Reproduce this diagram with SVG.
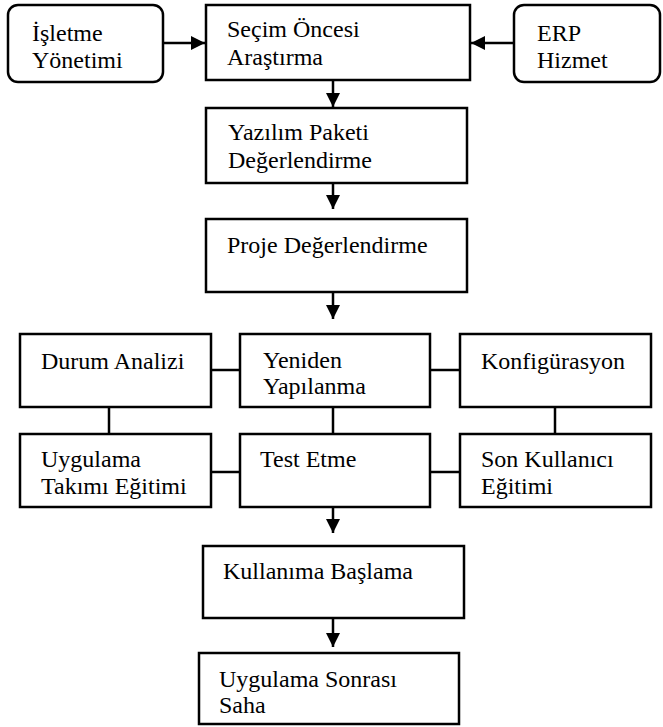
<svg xmlns="http://www.w3.org/2000/svg" width="663" height="727" viewBox="0 0 663 727">
  <style>
    .box { fill: #ffffff; stroke: #000000; stroke-width: 2.5; }
    .lbl { font-family: 'Liberation Serif', 'DejaVu Serif', serif; font-size: 24px; fill: #000000; }
    .wire { stroke: #000000; stroke-width: 2.5; fill: none; }
    .arrow { stroke: #000000; stroke-width: 2.5; fill: none; marker-end: url(#head); }
  </style>
  <defs>
    <marker id="head" markerUnits="userSpaceOnUse" markerWidth="14" markerHeight="14" viewBox="0 0 14 14" refX="14" refY="7" orient="auto">
      <path d="M0,0 L14,7 L0,14 Z" fill="#000000"/>
    </marker>
  </defs>

  <rect width="663" height="727" fill="#ffffff"/>

  <!-- connectors -->
  <g id="connectors">
    <line class="arrow" x1="163" y1="43" x2="205" y2="43"/>
    <line class="arrow" x1="514" y1="43" x2="471" y2="43"/>
    <line class="arrow" x1="333" y1="80" x2="333" y2="107"/>
    <line class="arrow" x1="333" y1="183" x2="333" y2="209"/>
    <line class="arrow" x1="333" y1="292" x2="333" y2="319"/>
    <line class="arrow" x1="333" y1="507" x2="333" y2="533"/>
    <line class="arrow" x1="333" y1="618" x2="333" y2="647"/>
    <!-- links inside the six-box block -->
    <line class="wire" x1="211" y1="370" x2="240" y2="370"/>
    <line class="wire" x1="430" y1="370" x2="460" y2="370"/>
    <line class="wire" x1="211" y1="472" x2="240" y2="472"/>
    <line class="wire" x1="430" y1="472" x2="460" y2="472"/>
    <line class="wire" x1="109" y1="407" x2="109" y2="434"/>
    <line class="wire" x1="333" y1="405" x2="333" y2="434"/>
    <line class="wire" x1="555" y1="405" x2="555" y2="434"/>
  </g>

  <g id="isletme-yonetimi">
    <rect class="box" x="8" y="5" width="155" height="77" rx="10"/>
    <text class="lbl" x="32" y="41">İşletme</text>
    <text class="lbl" x="32" y="68">Yönetimi</text>
  </g>

  <g id="secim-oncesi">
    <rect class="box" x="206" y="5" width="264" height="75"/>
    <text class="lbl" x="227" y="37">Seçim Öncesi</text>
    <text class="lbl" x="227" y="65">Araştırma</text>
  </g>

  <g id="erp-hizmet">
    <rect class="box" x="514" y="5" width="146" height="77" rx="10"/>
    <text class="lbl" x="537" y="41">ERP</text>
    <text class="lbl" x="537" y="68">Hizmet</text>
  </g>

  <g id="yazilim-paketi">
    <rect class="box" x="206" y="108" width="261" height="75"/>
    <text class="lbl" x="228" y="140">Yazılım Paketi</text>
    <text class="lbl" x="228" y="168">Değerlendirme</text>
  </g>

  <g id="proje">
    <rect class="box" x="206" y="219" width="261" height="73"/>
    <text class="lbl" x="227" y="253">Proje Değerlendirme</text>
  </g>

  <g id="durum-analizi">
    <rect class="box" x="20" y="334" width="191" height="73"/>
    <text class="lbl" x="41" y="369">Durum Analizi</text>
  </g>

  <g id="yeniden-yapilanma">
    <rect class="box" x="240" y="334" width="190" height="73"/>
    <text class="lbl" x="263" y="368">Yeniden</text>
    <text class="lbl" x="263" y="394">Yapılanma</text>
  </g>

  <g id="konfigurasyon">
    <rect class="box" x="460" y="334" width="191" height="73"/>
    <text class="lbl" x="481" y="369">Konfigürasyon</text>
  </g>

  <g id="uygulama-takimi">
    <rect class="box" x="20" y="434" width="191" height="73"/>
    <text class="lbl" x="41" y="467">Uygulama</text>
    <text class="lbl" x="41" y="494">Takımı Eğitimi</text>
  </g>

  <g id="test-etme">
    <rect class="box" x="240" y="434" width="190" height="73"/>
    <text class="lbl" x="260" y="467">Test Etme</text>
  </g>

  <g id="son-kullanici">
    <rect class="box" x="460" y="434" width="191" height="73"/>
    <text class="lbl" x="481" y="467">Son Kullanıcı</text>
    <text class="lbl" x="481" y="494">Eğitimi</text>
  </g>

  <g id="kullanima-baslama">
    <rect class="box" x="203" y="546" width="261" height="72"/>
    <text class="lbl" x="223" y="579">Kullanıma Başlama</text>
  </g>

  <g id="uygulama-sonrasi">
    <rect class="box" x="199" y="653" width="260" height="71"/>
    <text class="lbl" x="219" y="687">Uygulama Sonrası</text>
    <text class="lbl" x="219" y="713">Saha</text>
  </g>
</svg>
